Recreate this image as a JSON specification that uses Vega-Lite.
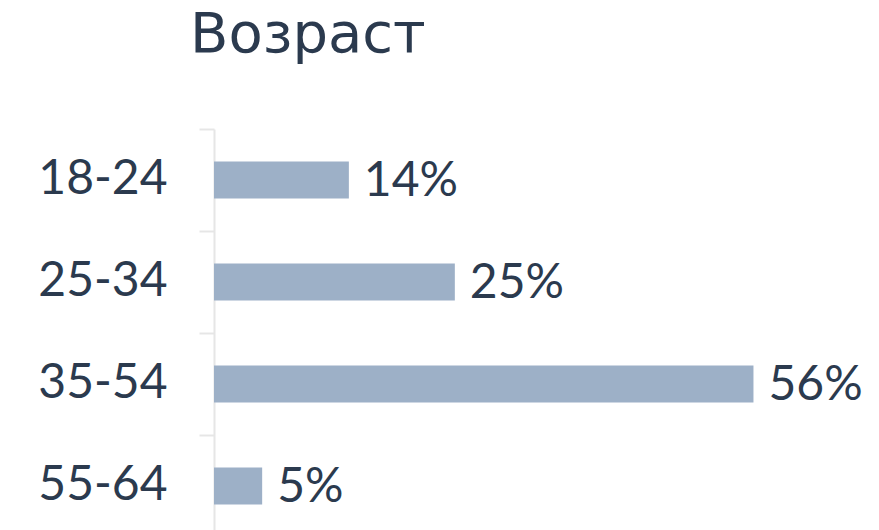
{
  "$schema": "https://vega.github.io/schema/vega-lite/v6.json",
  "autosize": "none",
  "padding": {"left": 214, "top": 129, "right": 87, "bottom": 0},
  "width": 578,
  "height": 408,
  "background": "white",
  "title": {
    "text": "Возраст",
    "font": "DejaVu Sans",
    "fontSize": 56,
    "fontWeight": "normal",
    "color": "#2b3a4e",
    "anchor": "start",
    "frame": "group",
    "dx": -24,
    "baseline": "alphabetic",
    "offset": 20,
    "limit": 0,
    "encode": {"title": {"update": {"letterSpacing": {"value": 6}}}}
  },
  "data": {
    "values": [
      {"age": "18-24", "pct": 14, "label": "14%"},
      {"age": "25-34", "pct": 25, "label": "25%"},
      {"age": "35-54", "pct": 56, "label": "56%"},
      {"age": "55-64", "pct": 5, "label": "5%"}
    ]
  },
  "encoding": {
    "y": {
      "field": "age",
      "type": "nominal",
      "sort": null,
      "scale": {"paddingInner": 0, "paddingOuter": 0},
      "axis": {
        "title": null,
        "bandPosition": 0,
        "domainColor": "#e6e6e6",
        "domainWidth": 2,
        "tickColor": "#e6e6e6",
        "tickWidth": 2,
        "tickSize": 15,
        "labelPadding": 32,
        "labelFont": "Lato",
        "labelFontSize": 48,
        "labelColor": "#2b3a4e",
        "grid": false,
        "labelBound": false,
        "labelOverlap": false
      }
    },
    "x": {
      "field": "pct",
      "type": "quantitative",
      "scale": {"domain": [0, 60]},
      "axis": null
    }
  },
  "layer": [
    {
      "mark": {"type": "bar", "size": 37, "color": "#9db0c7", "cornerRadius": 0}
    },
    {
      "mark": {"type": "text", "align": "left", "baseline": "middle", "dx": 15, "dy": 2, "font": "Lato", "fontSize": 48, "color": "#2b3a4e"},
      "encoding": {"text": {"field": "label", "type": "nominal"}}
    }
  ],
  "config": {"view": {"stroke": null}}
}
